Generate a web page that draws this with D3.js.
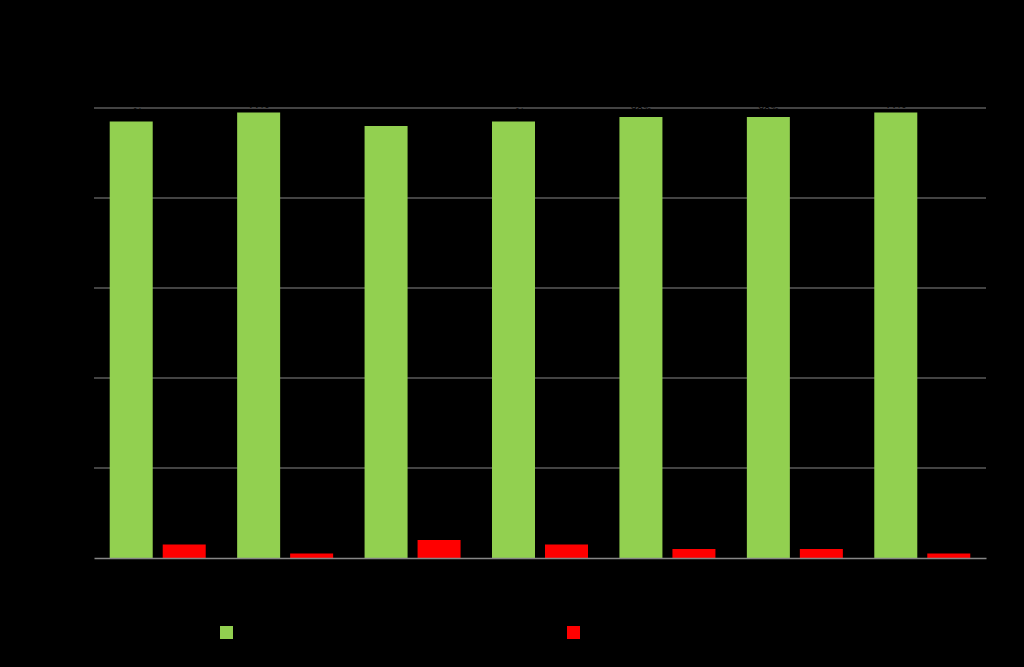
<!DOCTYPE html>
<html><head><meta charset="utf-8">
<script src="https://cdn.jsdelivr.net/npm/d3@7"></script>
<style>html,body{margin:0;padding:0;background:#000;}svg{display:block;}</style>
</head><body>
<svg id="c" width="1024" height="667"></svg>
<script>
const categories = ["Category 1","Category 2","Category 3","Category 4","Category 5","Category 6","Category 7"];
const seriesNames = ["Yes","No"];
const yesValues = [97, 99, 96, 97, 98, 98, 99];
const noValues = [3, 1, 4, 3, 2, 2, 1];
const yTicks = [0, 20, 40, 60, 80, 100];
const colors = ["#92d050", "#ff0000"];

(function () {
const svg = d3.select("#c");
svg.append("rect").attr("width",1024).attr("height",667).attr("fill","#000");

const mLeft = 94, mRight = 986, mTop = 108, mBottom = 558;
const x = d3.scaleBand().domain(categories).range([mLeft, mRight]).paddingInner(0).paddingOuter(0);
const y = d3.scaleLinear().domain([0, 100]).range([mBottom, mTop]);
const font = "Calibri, 'Liberation Sans', sans-serif";

// gridlines
svg.append("g").selectAll("line").data(yTicks.filter(t => t > 0)).join("line")
  .attr("x1", mLeft).attr("x2", mRight)
  .attr("y1", d => y(d)).attr("y2", d => y(d))
  .attr("stroke", "#868686").attr("stroke-width", 1);

// y axis labels (black text)
const yAxis = d3.axisLeft(y).tickValues(yTicks).tickFormat(d => d + "%").tickSize(0).tickPadding(8);
const ya = svg.append("g").attr("transform", `translate(${mLeft},0)`).call(yAxis);
ya.select(".domain").remove();
ya.selectAll("text").attr("fill", "#000").style("font-family", font).style("font-size","12px");

const barW = 43, gap = 10;
const data = categories.map((c, i) => ({c, vals: [yesValues[i], noValues[i]]}));
const g = svg.append("g");
data.forEach(d => {
  const bw = x.bandwidth();
  const off = (bw - 2 * barW - gap) / 2;
  d.vals.forEach((v, k) => {
    const bx = x(d.c) + off + k * (barW + gap);
    g.append("rect").attr("x", bx).attr("y", y(v)).attr("width", barW).attr("height", y(0) - y(v)).attr("fill", colors[k]);
    g.append("text").attr("x", bx + barW / 2).attr("y", y(v) - 5).attr("text-anchor","middle")
      .attr("fill","#000").style("font-family", font).style("font-size","12px").text(v + "%");
  });
});

// x axis baseline
const xAxis = d3.axisBottom(x).tickSize(0).tickPadding(10);
const xa = svg.append("g").attr("transform", `translate(0,${mBottom})`).call(xAxis);
xa.select(".domain").attr("stroke", "#868686").attr("stroke-width", 1.5);
xa.selectAll("text").attr("fill", "#000").style("font-family", font).style("font-size","12px");

// legend
const legendX = [220, 567];
seriesNames.forEach((s, k) => {
  svg.append("rect").attr("x", legendX[k]).attr("y", 626).attr("width", 13).attr("height", 13).attr("fill", colors[k]);
  svg.append("text").attr("x", legendX[k] + 18).attr("y", 637).attr("fill","#000")
    .style("font-family", font).style("font-size","12px").text(s);
});

// title
svg.append("text").attr("x", 512).attr("y", 50).attr("text-anchor","middle").attr("fill","#000")
  .style("font-family", font).style("font-size","18px").text("Chart Title");
})();
</script>
</body></html>
